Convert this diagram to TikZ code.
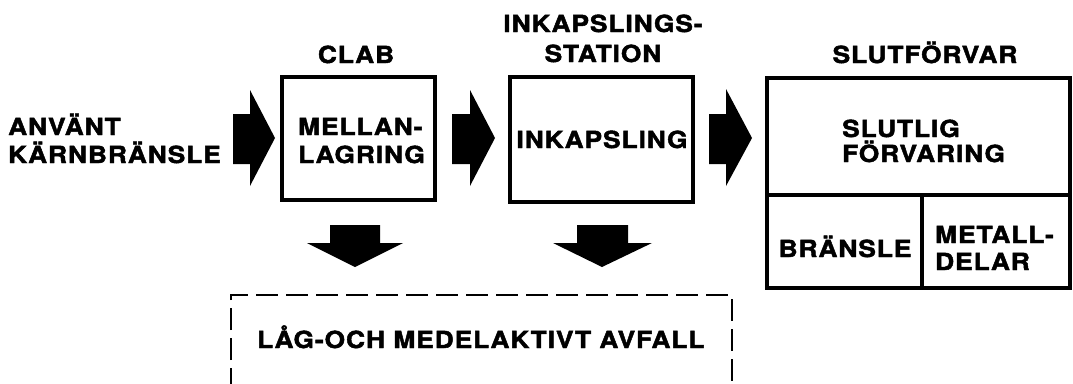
\documentclass[tikz,border=0pt]{standalone}
\usepackage{fontspec}
\newfontfamily\hb{TeX Gyre Heros}[LetterSpace=4, FakeStretch=1.12, BoldFeatures={FakeBold=2}]
\begin{document}
\begin{tikzpicture}[x=1pt,y=-1pt,
  lbl/.style={inner sep=0pt, font=\hb\bfseries\fontsize{23.5}{28}\selectfont},
  boxline/.style={line width=4pt},
  blockarrow/.style={fill=black, draw=none},
  dashbox/.style={line width=2.6pt, dash pattern=on 22pt off 8pt}]
\useasboundingbox (0,0) rectangle (1073,383);
% boxes
\draw[boxline] (282,77) rectangle (435,200);
\draw[boxline] (510,77) rectangle (693,202);
\draw[boxline] (767,78) rectangle (1070,288);
\draw[boxline] (767,195) -- (1070,195);
\draw[boxline] (922,195) -- (922,288);
% dashed box (open at the bottom)
\draw[dashbox] (231,390) -- (231,295) -- (732,295) -- (732,390);
% right block arrows
\fill[blockarrow] (233,114) -- (250,114) -- (250,90) -- (275,138) -- (250,186) -- (250,164) -- (233,164) -- cycle;
\fill[blockarrow] (452,114) -- (470,114) -- (470,90) -- (495,138) -- (470,186) -- (470,164) -- (452,164) -- cycle;
\fill[blockarrow] (709,114) -- (726,114) -- (726,89) -- (752,138) -- (726,186) -- (726,164) -- (709,164) -- cycle;
% down block arrows
\fill[blockarrow] (330,225) -- (380,225) -- (380,243) -- (403,243) -- (355,267) -- (307,243) -- (330,243) -- cycle;
\fill[blockarrow] (577,225) -- (628,225) -- (628,243) -- (652,243) -- (602,267) -- (553,243) -- (577,243) -- cycle;
% texts
\node[lbl, anchor=base west] (anv1) at (8,135) {ANVÄNT};
\node[lbl, anchor=base west] (anv2) at (8,163) {KÄRNBRÄNSLE};
\node[lbl, anchor=base] (clab) at (356,63) {CLAB};
\node[lbl, anchor=base west] (mel1) at (298,135) {MELLAN-};
\node[lbl, anchor=base west] (mel2) at (298,163) {LAGRING};
\node[lbl, anchor=base] (ink1) at (603,32) {INKAPSLINGS-};
\node[lbl, anchor=base] (ink2) at (603,62) {STATION};
\node[lbl, anchor=base] (ink) at (602,148) {INKAPSLING};
\node[lbl, anchor=base] (slut) at (925,63) {SLUTFÖRVAR};
\node[lbl, anchor=base west] (sl1) at (842,137) {SLUTLIG};
\node[lbl, anchor=base west] (sl2) at (842,162) {FÖRVARING};
\node[lbl, anchor=base] (bra) at (845,257) {BRÄNSLE};
\node[lbl, anchor=base west] (met1) at (935,243) {METALL-};
\node[lbl, anchor=base west] (met2) at (935,270) {DELAR};
\node[lbl, anchor=base west] (lag) at (257,348) {LÅG-OCH MEDELAKTIVT AVFALL};
\end{tikzpicture}
\end{document}
